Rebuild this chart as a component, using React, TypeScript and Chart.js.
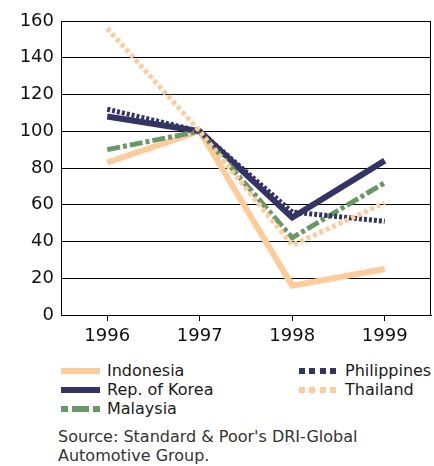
import React, { useEffect, useRef } from 'react';
import Chart, { ChartConfiguration } from 'chart.js/auto';

const years = ['1996', '1997', '1998', '1999'];
const indonesia = [83, 100, 16, 25];
const korea = [108, 100, 53, 84];
const malaysia = [90, 100, 42, 72];
const philippines = [112, 100, 56, 51];
const thailand = [156, 100, 38, 61];

const ORANGE = '#FFCC99';
const NAVY = '#333366';
const GREEN = '#669966';
const FONT = '"DejaVu Sans", Verdana, sans-serif';

const frame = {
  id: 'frame',
  afterDraw(chart: Chart) {
    const { ctx, chartArea } = chart;
    ctx.save();
    ctx.strokeStyle = '#000';
    ctx.lineWidth = 1;
    ctx.beginPath();
    ctx.moveTo(Math.round(chartArea.right) - 0.5, chartArea.top);
    ctx.lineTo(Math.round(chartArea.right) - 0.5, chartArea.bottom);
    ctx.stroke();
    ctx.restore();
  },
};

const swatch = (background: string, width = 39): React.CSSProperties => ({
  display: 'inline-block',
  width,
  height: 6,
  background,
  marginRight: 7,
  verticalAlign: 'middle',
});

const dots = (color: string) =>
  `repeating-linear-gradient(to right, ${color} 0 6px, transparent 6px 10.5px)`;

const dashDot = `linear-gradient(to right, ${GREEN} 0 7px, transparent 7px 11px, ${GREEN} 11px 28px, transparent 28px 32px, ${GREEN} 32px 39px)`;

const LegendItem: React.FC<{ bg: string; label: string }> = ({ bg, label }) => (
  <div style={{ height: 19, display: 'flex', alignItems: 'center' }}>
    <span style={swatch(bg)} />
    <span>{label}</span>
  </div>
);

const App: React.FC = () => {
  const chartRef = useRef<HTMLCanvasElement>(null);
  const chartInstance = useRef<Chart | null>(null);

  useEffect(() => {
    if (!chartRef.current) return;
    if (chartInstance.current) chartInstance.current.destroy();
    const ctx = chartRef.current.getContext('2d');
    if (!ctx) return;

    const line = (label: string, data: number[], color: string, width: number, dash: number[], order: number) => ({
      label,
      data,
      borderColor: color,
      backgroundColor: color,
      borderWidth: width,
      borderDash: dash,
      borderCapStyle: 'butt' as const,
      borderJoinStyle: 'miter' as const,
      fill: false,
      tension: 0,
      pointRadius: 0,
      order,
    });

    const config: ChartConfiguration = {
      type: 'line',
      data: {
        labels: years,
        datasets: [
          line('Indonesia', indonesia, ORANGE, 6, [], 4),
          line('Rep. of Korea', korea, NAVY, 6, [], 3),
          line('Malaysia', malaysia, GREEN, 5, [13, 3, 4, 3], 2),
          line('Philippines', philippines, NAVY, 5, [3, 2], 1),
          line('Thailand', thailand, ORANGE, 5, [4, 3], 0),
        ],
      },
      options: {
        animation: false,
        responsive: false,
        maintainAspectRatio: false,
        layout: { padding: { left: 0, right: 3, top: 21, bottom: 0 } },
        plugins: {
          legend: { display: false },
          tooltip: { enabled: false },
        },
        scales: {
          x: {
            offset: true,
            grid: {
              display: true,
              drawOnChartArea: false,
              drawTicks: true,
              tickLength: 6,
              offset: false,
              color: '#000',
            },
            border: { display: true, color: '#000', width: 1 },
            ticks: { color: '#111', font: { family: FONT, size: 18 }, padding: 5 },
            afterFit: (scale: any) => {
              scale.height = 35;
            },
          },
          y: {
            min: 0,
            max: 160,
            ticks: { stepSize: 20, color: '#111', font: { family: FONT, size: 18 }, padding: 7 },
            grid: { color: '#000', drawTicks: false },
            border: { display: true, color: '#000', width: 1 },
            afterFit: (scale: any) => {
              scale.width = 61;
            },
          },
        },
      },
      plugins: [frame],
    };

    chartInstance.current = new Chart(ctx, config);
    return () => {
      if (chartInstance.current) {
        chartInstance.current.destroy();
        chartInstance.current = null;
      }
    };
  }, []);

  return (
    <div
      style={{
        position: 'absolute',
        left: 0,
        top: 0,
        width: 434,
        height: 466,
        background: '#fff',
        fontFamily: FONT,
      }}
    >
      <canvas ref={chartRef} width={434} height={350} style={{ display: 'block', width: 434, height: 350 }} />
      <div style={{ position: 'absolute', left: 61, top: 361, fontSize: 16, color: '#1a1a1a' }}>
        <LegendItem bg={ORANGE} label="Indonesia" />
        <LegendItem bg={NAVY} label="Rep. of Korea" />
        <LegendItem bg={dashDot} label="Malaysia" />
      </div>
      <div style={{ position: 'absolute', left: 299, top: 361, fontSize: 16, color: '#1a1a1a' }}>
        <LegendItem bg={dots(NAVY)} label="Philippines" />
        <LegendItem bg={dots(ORANGE)} label="Thailand" />
      </div>
      <div
        style={{
          position: 'absolute',
          left: 58,
          top: 427,
          fontSize: 16,
          lineHeight: '19px',
          color: '#333',
        }}
      >
        Source: Standard &amp; Poor's DRI-Global
        <br />
        Automotive Group.
      </div>
    </div>
  );
};

export default App;
